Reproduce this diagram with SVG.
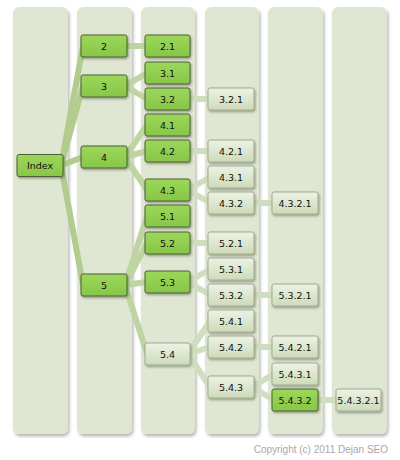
<svg xmlns="http://www.w3.org/2000/svg" width="400" height="460" viewBox="0 0 400 460">
<defs>
<filter id="colsh" x="-20%" y="-5%" width="140%" height="110%">
<feDropShadow dx="1.5" dy="2.5" stdDeviation="1.8" flood-color="#000" flood-opacity="0.28"/>
</filter>
<filter id="nsh" x="-20%" y="-30%" width="140%" height="170%">
<feDropShadow dx="1" dy="1.5" stdDeviation="1" flood-color="#000" flood-opacity="0.35"/>
</filter>
<linearGradient id="gGreen" x1="0" y1="0" x2="0" y2="1">
<stop offset="0" stop-color="#9bd75a"/>
<stop offset="1" stop-color="#88c648"/>
</linearGradient>
<linearGradient id="gPale" x1="0" y1="0" x2="0" y2="1">
<stop offset="0" stop-color="#edf2e4"/>
<stop offset="1" stop-color="#cddbb9"/>
</linearGradient>
</defs>
<style>
.col{fill:#dfe7d2;filter:url(#colsh)}
.n rect{stroke-width:1;filter:url(#nsh)}
.g rect{fill:url(#gGreen);stroke:#4e5f34}
.p rect{fill:url(#gPale);stroke:#9faa92}
.n text{font-family:"DejaVu Sans",Verdana,sans-serif;font-size:9.5px;fill:#111;text-anchor:middle;dominant-baseline:central}
.e1{stroke:#b2cc8d;stroke-width:6;fill:none}
.e2{stroke:#bed5a2;stroke-width:6;fill:none}
.e3{stroke:#d0dec0;stroke-width:6;fill:none}
.copy{font-family:"Liberation Sans",Arial,sans-serif;font-size:10px;fill:#a8a8a8}
</style>
<rect width="400" height="460" fill="#fff"/>
<g id="columns">
<rect class="col" x="13" y="7" width="55" height="427" rx="6"/>
<rect class="col" x="77" y="7" width="55" height="427" rx="6"/>
<rect class="col" x="141" y="7" width="54" height="427" rx="6"/>
<rect class="col" x="205" y="7" width="54" height="427" rx="6"/>
<rect class="col" x="268" y="7" width="55" height="427" rx="6"/>
<rect class="col" x="332" y="7" width="55" height="427" rx="6"/>
</g>
<g id="connectors">
<line class="e1" x1="61" y1="165.5" x2="83" y2="46"/>
<line class="e1" x1="61" y1="165.5" x2="83" y2="86"/>
<line class="e1" x1="61" y1="165.5" x2="83" y2="157"/>
<line class="e1" x1="61" y1="165.5" x2="83" y2="285"/>
<line class="e2" x1="125" y1="46" x2="147" y2="46"/>
<line class="e2" x1="125" y1="86" x2="147" y2="73"/>
<line class="e2" x1="125" y1="86" x2="147" y2="99"/>
<line class="e2" x1="125" y1="157" x2="147" y2="125"/>
<line class="e2" x1="125" y1="157" x2="147" y2="151"/>
<line class="e2" x1="125" y1="157" x2="147" y2="190"/>
<line class="e2" x1="125" y1="285" x2="147" y2="216"/>
<line class="e2" x1="125" y1="285" x2="147" y2="243"/>
<line class="e2" x1="125" y1="285" x2="147" y2="282"/>
<line class="e2" x1="125" y1="285" x2="147" y2="354"/>
<line class="e3" x1="188" y1="99" x2="210" y2="99"/>
<line class="e3" x1="188" y1="151" x2="210" y2="151"/>
<line class="e3" x1="188" y1="190" x2="210" y2="177"/>
<line class="e3" x1="188" y1="190" x2="210" y2="203"/>
<line class="e3" x1="188" y1="243" x2="210" y2="243"/>
<line class="e3" x1="188" y1="282" x2="210" y2="269"/>
<line class="e3" x1="188" y1="282" x2="210" y2="295"/>
<line class="e3" x1="188" y1="354" x2="210" y2="321"/>
<line class="e3" x1="188" y1="354" x2="210" y2="347"/>
<line class="e3" x1="188" y1="354" x2="210" y2="387"/>
<line class="e3" x1="252" y1="203" x2="274" y2="203"/>
<line class="e3" x1="252" y1="295" x2="274" y2="295"/>
<line class="e3" x1="252" y1="347" x2="274" y2="347"/>
<line class="e3" x1="252" y1="387" x2="274" y2="374"/>
<line class="e3" x1="252" y1="387" x2="274" y2="400"/>
<line class="e3" x1="316" y1="400" x2="338" y2="400"/>
</g>
<g id="n-index" class="n g"><rect x="17" y="154.5" width="46" height="22" rx="2"/><text x="40" y="165.5">Index</text></g>
<g id="n-2" class="n g"><rect x="81" y="35" width="46" height="22" rx="2"/><text x="104" y="46">2</text></g>
<g id="n-3" class="n g"><rect x="81" y="75" width="46" height="22" rx="2"/><text x="104" y="86">3</text></g>
<g id="n-4" class="n g"><rect x="81" y="146" width="46" height="22" rx="2"/><text x="104" y="157">4</text></g>
<g id="n-5" class="n g"><rect x="81" y="274" width="46" height="22" rx="2"/><text x="104" y="285">5</text></g>
<g id="n-2-1" class="n g"><rect x="145" y="35" width="45" height="22" rx="2"/><text x="167.5" y="46">2.1</text></g>
<g id="n-3-1" class="n g"><rect x="145" y="62" width="45" height="22" rx="2"/><text x="167.5" y="73">3.1</text></g>
<g id="n-3-2" class="n g"><rect x="145" y="88" width="45" height="22" rx="2"/><text x="167.5" y="99">3.2</text></g>
<g id="n-4-1" class="n g"><rect x="145" y="114" width="45" height="22" rx="2"/><text x="167.5" y="125">4.1</text></g>
<g id="n-4-2" class="n g"><rect x="145" y="140" width="45" height="22" rx="2"/><text x="167.5" y="151">4.2</text></g>
<g id="n-4-3" class="n g"><rect x="145" y="179" width="45" height="22" rx="2"/><text x="167.5" y="190">4.3</text></g>
<g id="n-5-1" class="n g"><rect x="145" y="205" width="45" height="22" rx="2"/><text x="167.5" y="216">5.1</text></g>
<g id="n-5-2" class="n g"><rect x="145" y="232" width="45" height="22" rx="2"/><text x="167.5" y="243">5.2</text></g>
<g id="n-5-3" class="n g"><rect x="145" y="271" width="45" height="22" rx="2"/><text x="167.5" y="282">5.3</text></g>
<g id="n-5-4" class="n p"><rect x="145" y="343" width="45" height="22" rx="2"/><text x="167.5" y="354">5.4</text></g>
<g id="n-3-2-1" class="n p"><rect x="208" y="88" width="46" height="22" rx="2"/><text x="231" y="99">3.2.1</text></g>
<g id="n-4-2-1" class="n p"><rect x="208" y="140" width="46" height="22" rx="2"/><text x="231" y="151">4.2.1</text></g>
<g id="n-4-3-1" class="n p"><rect x="208" y="166" width="46" height="22" rx="2"/><text x="231" y="177">4.3.1</text></g>
<g id="n-4-3-2" class="n p"><rect x="208" y="192" width="46" height="22" rx="2"/><text x="231" y="203">4.3.2</text></g>
<g id="n-5-2-1" class="n p"><rect x="208" y="232" width="46" height="22" rx="2"/><text x="231" y="243">5.2.1</text></g>
<g id="n-5-3-1" class="n p"><rect x="208" y="258" width="46" height="22" rx="2"/><text x="231" y="269">5.3.1</text></g>
<g id="n-5-3-2" class="n p"><rect x="208" y="284" width="46" height="22" rx="2"/><text x="231" y="295">5.3.2</text></g>
<g id="n-5-4-1" class="n p"><rect x="208" y="310" width="46" height="22" rx="2"/><text x="231" y="321">5.4.1</text></g>
<g id="n-5-4-2" class="n p"><rect x="208" y="336" width="46" height="22" rx="2"/><text x="231" y="347">5.4.2</text></g>
<g id="n-5-4-3" class="n p"><rect x="208" y="376" width="46" height="22" rx="2"/><text x="231" y="387">5.4.3</text></g>
<g id="n-4-3-2-1" class="n p"><rect x="272" y="192" width="46" height="22" rx="2"/><text x="295" y="203">4.3.2.1</text></g>
<g id="n-5-3-2-1" class="n p"><rect x="272" y="284" width="46" height="22" rx="2"/><text x="295" y="295">5.3.2.1</text></g>
<g id="n-5-4-2-1" class="n p"><rect x="272" y="336" width="46" height="22" rx="2"/><text x="295" y="347">5.4.2.1</text></g>
<g id="n-5-4-3-1" class="n p"><rect x="272" y="363" width="46" height="22" rx="2"/><text x="295" y="374">5.4.3.1</text></g>
<g id="n-5-4-3-2" class="n g"><rect x="272" y="389" width="46" height="22" rx="2"/><text x="295" y="400">5.4.3.2</text></g>
<g id="n-5-4-3-2-1" class="n p"><rect x="336" y="389" width="45" height="22" rx="2"/><text x="358.5" y="400">5.4.3.2.1</text></g>
<text class="copy" x="388" y="452.5" text-anchor="end">Copyright (c) 2011 Dejan SEO</text>
</svg>
